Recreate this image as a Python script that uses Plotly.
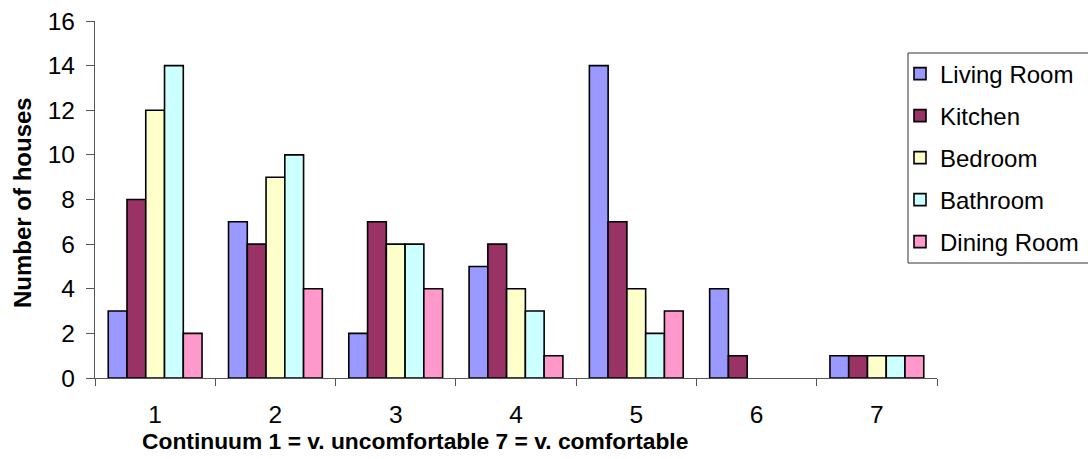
import plotly.graph_objects as go

categories = ["1", "2", "3", "4", "5", "6", "7"]
living_room = [3, 7, 2, 5, 14, 4, 1]
kitchen = [8, 6, 7, 6, 7, 1, 1]
bedroom = [12, 9, 6, 4, 4, 0, 1]
bathroom = [14, 10, 6, 3, 2, 0, 1]
dining_room = [2, 4, 4, 1, 3, 0, 1]

series = [
    ("Living Room", living_room, "#9999FF"),
    ("Kitchen", kitchen, "#993366"),
    ("Bedroom", bedroom, "#FFFFCC"),
    ("Bathroom", bathroom, "#CCFFFF"),
    ("Dining Room", dining_room, "#FF99CC"),
]

FONT = "Liberation Sans, Arial, sans-serif"
L, R, T, B = 95, 151, 21, 81
PW, PH = 1088 - L - R, 459 - T - B


def px_x(x):
    return (x - L) / PW


def px_y(y):
    return (459 - B - y) / PH


fig = go.Figure()
for i, (name, vals, color) in enumerate(series):
    fig.add_trace(go.Bar(
        x=categories, y=[v if v != 0 else None for v in vals], name=name,
        legendgroup=f"g{i}",
        marker=dict(color=color, line=dict(color="black", width=1.6)),
    ))

fig.update_layout(
    width=1088, height=459,
    margin=dict(l=L, r=R, t=T, b=B, autoexpand=False),
    paper_bgcolor="white", plot_bgcolor="white",
    barmode="group", bargap=0.22, bargroupgap=0,
    font=dict(family=FONT, size=24, color="black"),
    showlegend=True,
    legend=dict(
        x=px_x(900), xanchor="left", y=px_y(51.5), yanchor="top",
        borderwidth=0, bgcolor="rgba(0,0,0,0)",
        font=dict(family=FONT, size=24, color="black"),
        traceorder="grouped", tracegroupgap=7.8,
        itemwidth=30,
    ),
    xaxis=dict(
        type="category", showline=True, linecolor="#555555", linewidth=1.2,
        ticks="outside", tickson="boundaries", ticklen=7, tickcolor="#555555",
        tickfont=dict(size=24.5), ticklabelstandoff=14,
        showgrid=False, zeroline=False,
    ),
    yaxis=dict(
        range=[0, 16], dtick=2, showline=True, linecolor="#555555", linewidth=1.2,
        ticks="outside", ticklen=8, tickcolor="#555555",
        tickfont=dict(size=24.5), ticklabelstandoff=6,
        showgrid=False, zeroline=False,
    ),
    shapes=[
        dict(type="rect", xref="paper", yref="paper",
             x0=px_x(908), x1=px_x(1100), y0=px_y(263), y1=px_y(53),
             line=dict(color="#333333", width=1), fillcolor="rgba(0,0,0,0)"),
    ],
    annotations=[
        dict(text="<b>Number of houses</b>", xref="paper", yref="paper",
             x=px_x(22), y=px_y(203), textangle=-90, showarrow=False,
             xanchor="center", yanchor="middle", font=dict(size=24)),
        dict(text="<b>Continuum 1 = v. uncomfortable 7 = v. comfortable</b>",
             xref="paper", yref="paper", x=px_x(415), y=px_y(441),
             showarrow=False, xanchor="center", yanchor="middle", font=dict(size=22.8)),
    ],
)

fig.write_html("out.html")
